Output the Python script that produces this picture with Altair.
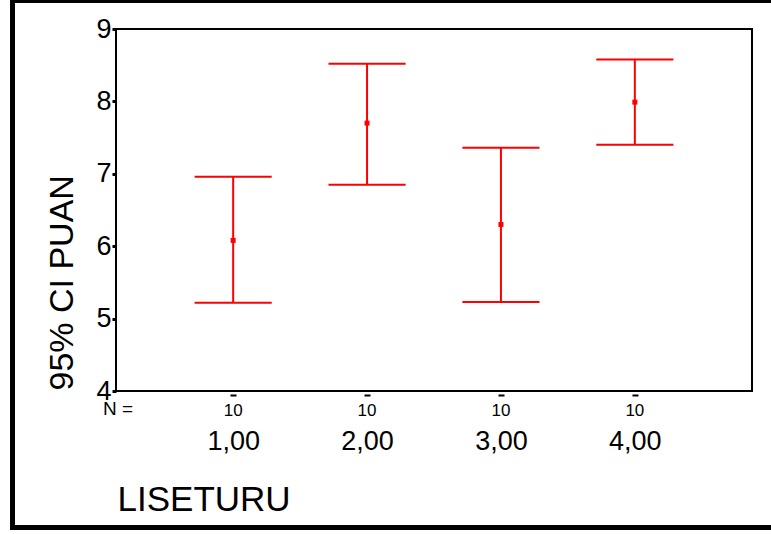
import altair as alt
import pandas as pd

# Data
groups = [1, 2, 3, 4]
group_labels = ["1,00", "2,00", "3,00", "4,00"]
n_labels = ["10", "10", "10", "10"]
means = [6.08, 7.70, 6.30, 7.99]
lowers = [5.22, 6.85, 5.23, 7.40]
uppers = [6.96, 8.52, 7.36, 8.58]
y_ticks = [4, 5, 6, 7, 8, 9]

df = pd.DataFrame({
    "g": groups,
    "label": group_labels,
    "n": n_labels,
    "mean": means,
    "lo": lowers,
    "hi": uppers,
})

W, H = 636, 362
RED = "#ff0000"
FONT = "Liberation Sans"
CAP = 0.288

label_expr = "[" + ",".join("'%s'" % s for s in group_labels) + "][datum.value - 1]"

xscale = alt.Scale(domain=[0.125, 4.875], nice=False, zero=False)
yscale = alt.Scale(domain=[4, 9], nice=False, zero=False)

x_axis = alt.Axis(
    values=groups, labelExpr=label_expr, grid=False, domain=False,
    tickSize=6, tickWidth=6, tickColor="black", tickDash=[0, 3, 2, 20],
    labelFontSize=27, labelFont=FONT, labelColor="black", labelPadding=31,
    title="LISETURU", titleFontSize=35, titleFont=FONT, titleFontWeight="normal",
    titleColor="black", titleX=1, titleY=119, titleAlign="left",
    titleBaseline="alphabetic", titleAnchor="start",
)
y_axis = alt.Axis(
    values=y_ticks, format="d", grid=False, domain=False,
    tickSize=4, tickWidth=3, tickColor="black",
    labelFontSize=27, labelFont=FONT, labelColor="black", labelPadding=1,
    title="95% CI PUAN", titleFontSize=34, titleFont=FONT, titleFontWeight="normal",
    titleColor="black", titleX=-44, titleY=361, titleAlign="left",
    titleBaseline="alphabetic", titleAngle=-90,
)

base = alt.Chart(df)

stem = base.mark_rule(color=RED, strokeWidth=2).encode(
    x=alt.X("g:Q", scale=xscale, axis=x_axis),
    y=alt.Y("lo:Q", scale=yscale, axis=y_axis),
    y2="hi:Q",
)

caps_base = base.transform_calculate(
    x1="datum.g - %f" % CAP, x2="datum.g + %f" % CAP
)
cap_hi = caps_base.mark_rule(color=RED, strokeWidth=2).encode(
    x=alt.X("x1:Q", scale=xscale), x2="x2:Q", y=alt.Y("hi:Q", scale=yscale)
)
cap_lo = caps_base.mark_rule(color=RED, strokeWidth=2).encode(
    x=alt.X("x1:Q", scale=xscale), x2="x2:Q", y=alt.Y("lo:Q", scale=yscale)
)

pts = base.mark_square(color=RED, size=25, opacity=1).encode(
    x=alt.X("g:Q", scale=xscale), y=alt.Y("mean:Q", scale=yscale)
)

n_text = base.mark_text(fontSize=17, font=FONT, color="black", baseline="middle").encode(
    x=alt.X("g:Q", scale=xscale), y=alt.value(H + 20), text="n:N"
)

n_eq = alt.Chart(pd.DataFrame({"t": ["N ="]})).mark_text(
    fontSize=19, font=FONT, color="black", baseline="middle", align="center"
).encode(x=alt.value(2), y=alt.value(H + 18), text="t:N")

frame = alt.Chart(pd.DataFrame({"a": [0]})).mark_rect(
    fill=None, stroke="black", strokeWidth=5, filled=False
).encode(
    x=alt.value(-103.5), x2=alt.value(720), y=alt.value(-28.5), y2=alt.value(498.5)
)

chart = alt.layer(frame, stem, cap_hi, cap_lo, pts, n_text, n_eq).properties(
    width=W, height=H,
    autosize=alt.AutoSizeParams(type="none"),
    padding={"left": 116, "top": 29, "right": 19, "bottom": 143},
    background="white",
).configure_view(stroke="black", strokeWidth=2)

chart.save("out.html", embed_options={"renderer": "svg", "actions": False})
